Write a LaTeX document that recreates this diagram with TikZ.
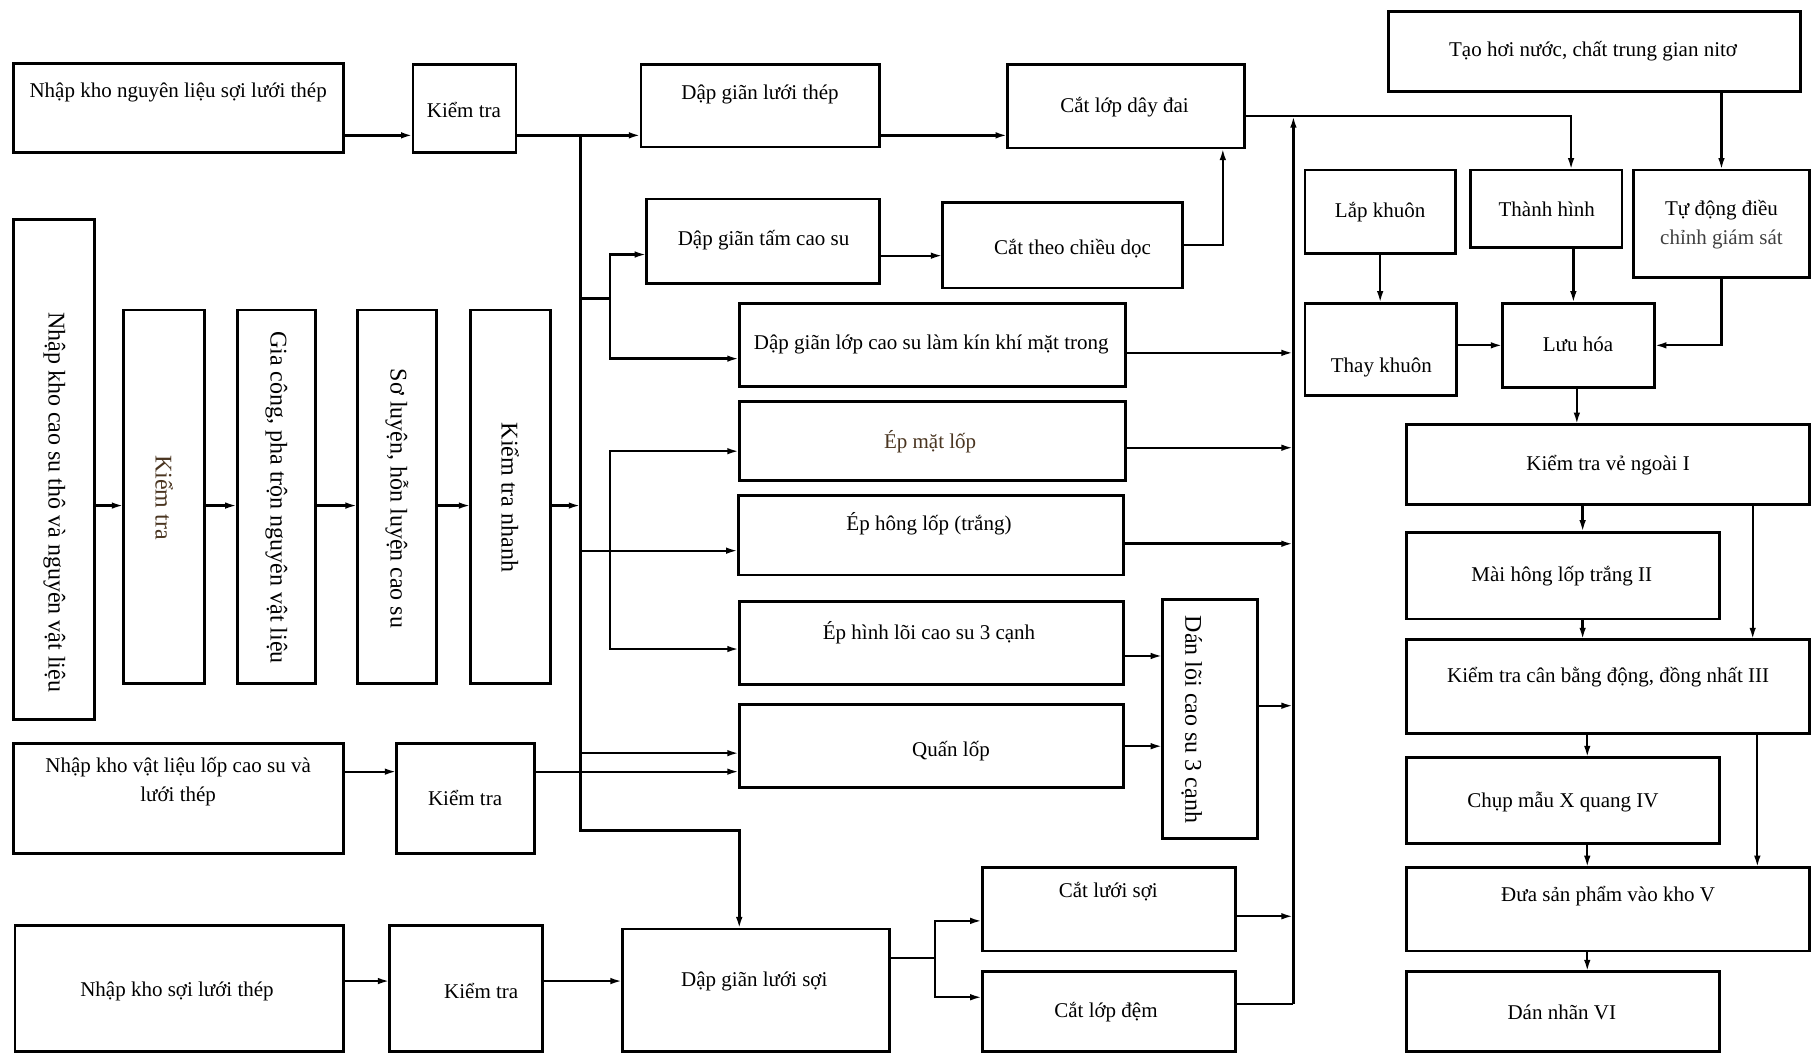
\documentclass[tikz,border=0pt]{standalone}
\usepackage{fontspec}
\setmainfont{Liberation Serif}
\usetikzlibrary{arrows.meta}
\definecolor{brn}{HTML}{4A3520}
\tikzset{
  box/.style={draw, rectangle, line width=2.8pt, inner sep=0pt, outer sep=0pt},
  txt/.style={inner sep=0pt, align=center, font=\fontsize{21}{29}\selectfont},
  vtxt/.style={inner sep=0pt, align=center, rotate=-90, font=\fontsize{24}{29}\selectfont},
  ln/.style={line width=2.3pt},
  arr/.style={line width=2.3pt, -{Latex[length=12pt,width=6.5pt]}},
  thk/.style={line width=3.3pt},
}
% box: name, x1, y1, x2, y2, text x, text y, text
\newcommand{\bx}[8]{%
  \node[box, minimum width={(#4-#2)*1.1569pt}, minimum height={(#5-#3)*1.1569pt}]
    (#1) at ({(#2+#4)/2},{(#3+#5)/2}) {};
  \node[txt] (#1-t) at (#6,#7) {#8};}
% same box with text running downwards
\newcommand{\vbx}[8]{%
  \node[box, minimum width={(#4-#2)*1.1569pt}, minimum height={(#5-#3)*1.1569pt}]
    (#1) at ({(#2+#4)/2},{(#3+#5)/2}) {};
  \node[vtxt] (#1-t) at (#6,#7) {#8};}
\begin{document}
\begin{tikzpicture}[x=1.1569pt,y=-1.1569pt]
\path[fill=white, use as bounding box] (0,0) rectangle (1568,912);

% --- top row: steel cord line
\bx{A}{12}{55}{297}{132}{154}{80}{Nhập kho nguyên liệu sợi lưới thép}
\bx{B}{357}{56}{446}{132}{401}{95}{Kiểm tra}
\bx{C}{554}{56}{760}{127}{657}{82}{Dập giãn lưới thép}
\bx{D}{871}{56}{1076}{128}{972}{93}{Cắt lớp dây đai}

% --- right column: forming, curing, inspection
\bx{E}{1200}{10}{1556}{79}{1377}{44}{Tạo hơi nước, chất trung gian nitơ}
\bx{LK}{1128}{147}{1258}{219}{1193}{183}{Lắp khuôn}
\bx{TH}{1271}{147}{1402}{214}{1337}{181}{Thành hình}
\bx{TD}{1412}{147}{1564}{240}{1488}{194}{Tự động điều\\{\color{black!75}chỉnh giám sát}}
\bx{TK}{1128}{262}{1259}{342}{1194}{318}{Thay khuôn}
\bx{LH}{1299}{262}{1430}{335}{1364}{298}{Lưu hóa}
\bx{K1}{1216}{367}{1564}{436}{1390}{402}{Kiểm tra vẻ ngoài I}
\bx{MH}{1216}{460}{1486}{535}{1350}{498}{Mài hông lốp trắng II}
\bx{K3}{1216}{553}{1564}{634}{1390}{585}{Kiểm tra cân bằng động, đồng nhất III}
\bx{CM}{1216}{655}{1486}{729}{1351}{693}{Chụp mẫu X quang IV}
\bx{DK}{1216}{750}{1564}{822}{1390}{775}{Đưa sản phẩm vào kho V}
\bx{DN}{1216}{840}{1486}{909}{1350}{875}{Dán nhãn VI}

% --- rubber preparation (vertical boxes)
\vbx{V1}{12}{190}{82}{622}{47}{434}{Nhập kho cao su thô và nguyên vật liệu}
\vbx{V2}{107}{268}{177}{591}{142}{430}{\color{brn}Kiểm tra}
\vbx{V3}{205}{268}{273}{591}{239}{430}{Gia công, pha trộn nguyên vật liệu}
\vbx{V4}{309}{268}{377}{591}{343}{431}{Sơ luyện, hỗn luyện cao su}
\vbx{V5}{407}{268}{476}{591}{441}{430}{Kiểm tra nhanh}

% --- middle column: component making
\bx{DGT}{559}{172}{760}{245}{660}{208}{Dập giãn tấm cao su}
\bx{CTD}{815}{175}{1022}{249}{927}{215}{Cắt theo chiều dọc}
\bx{DGL}{639}{262}{973}{334}{805}{298}{Dập giãn lớp cao su làm kín khí mặt trong}
\bx{EM}{639}{347}{973}{415}{804}{382}{\color{brn}Ép mặt lốp}
\bx{EH}{638}{428}{971}{497}{803}{453}{Ép hông lốp (trắng)}
\bx{EL}{639}{520}{971}{592}{803}{547}{Ép hình lõi cao su 3 cạnh}
\bx{QL}{639}{609}{971}{681}{822}{649}{Quấn lốp}
\vbx{DL3}{1005}{518}{1087}{725}{1030}{622}{Dán lõi cao su 3 cạnh}

% --- lower rows
\bx{N3}{12}{643}{297}{738}{154}{676}{Nhập kho vật liệu lốp cao su và\\lưới thép}
\bx{KT3}{343}{643}{462}{738}{402}{690}{Kiểm tra}
\bx{N4}{13}{800}{297}{909}{153}{857}{Nhập kho sợi lưới thép}
\bx{KT4}{337}{800}{469}{909}{416}{857}{Kiểm tra}
\bx{DLS}{538}{803}{769}{909}{652}{848}{Dập giãn lưới sợi}
\bx{CLS}{849}{750}{1068}{822}{958}{771}{Cắt lưới sợi}
\bx{CLD}{849}{840}{1068}{909}{956}{875}{Cắt lớp đệm}

% --- routing points
\coordinate (rowA) at (0,117);
\coordinate (bT) at (502,117);
\coordinate (bB) at (502,718);
\coordinate (bK) at (639,718);
\coordinate (rowV) at (502,437);
\coordinate (j1) at (502,258);
\coordinate (s1) at (527,258);
\coordinate (s1a) at (527,220);
\coordinate (s1b) at (527,310);
\coordinate (j2) at (502,476);
\coordinate (s2) at (527,476);
\coordinate (s2a) at (527,390);
\coordinate (s2b) at (527,561);
\coordinate (j3) at (502,651);
\coordinate (q) at (0,667);
\coordinate (rowB) at (0,848);
\coordinate (f0) at (808,828);
\coordinate (f1) at (808,796);
\coordinate (f2) at (808,862);
\coordinate (cT) at (1118,100);
\coordinate (cB) at (1118,868);
\coordinate (c1) at (1118,305);
\coordinate (c2) at (1118,387);
\coordinate (c3) at (1118,470);
\coordinate (c4) at (1118,610);
\coordinate (c5) at (1118,792);
\coordinate (d1) at (1005,567);
\coordinate (d2) at (1005,645);
\coordinate (u1) at (1057,212);
\coordinate (u2) at (0,221);
\coordinate (t1) at (1358,100);
\coordinate (t2) at (1360,0);
\coordinate (x1) at (1363,0);
\coordinate (x2) at (1368,0);
\coordinate (x3) at (1515,0);
\coordinate (x4) at (1372,0);
\coordinate (x5) at (1519,0);

% --- top row flow
\draw[arr,thk] (A.east |- rowA) -- (B.west |- rowA);
\draw[arr,thk] (B.east |- rowA) -- (C.west |- rowA);
\draw[arr,thk] (C.east |- rowA) -- (D.west |- rowA);

% --- main distribution bus
\draw[arr,line width=2.7pt] (bT) -- (bB) -- (bK) -- (bK |- DLS.north);
\draw[arr] (V1.east |- rowV) -- (V2.west |- rowV);
\draw[arr] (V2.east |- rowV) -- (V3.west |- rowV);
\draw[arr] (V3.east |- rowV) -- (V4.west |- rowV);
\draw[arr] (V4.east |- rowV) -- (V5.west |- rowV);
\draw[arr] (V5.east |- rowV) -- (rowV);

\draw[ln] (j1) -- (s1);
\draw[arr] (s1) -- (s1a) -- (DGT.west |- s1a);
\draw[arr] (s1) -- (s1b) -- (DGL.west |- s1b);
\draw[arr] (j2) -- (EH.west |- j2);
\draw[arr] (s2) -- (s2a) -- (EM.west |- s2a);
\draw[arr] (s2) -- (s2b) -- (EL.west |- s2b);
\draw[arr] (j3) -- (QL.west |- j3);
\draw[arr] (N3.east |- q) -- (KT3.west |- q);
\draw[arr] (KT3.east |- q) -- (QL.west |- q);

% --- bottom row flow
\draw[arr] (N4.east |- rowB) -- (KT4.west |- rowB);
\draw[arr] (KT4.east |- rowB) -- (DLS.west |- rowB);
\draw[ln] (DLS.east |- f0) -- (f0);
\draw[arr] (f0) -- (f1) -- (CLS.west |- f1);
\draw[arr] (f0) -- (f2) -- (CLD.west |- f2);

% --- component collector
\draw[ln] (CLD.east |- cB) -- (cB);
\draw[arr] (cB) -- (cT);
\draw[arr] (DGL.east |- c1) -- (c1);
\draw[arr] (EM.east |- c2) -- (c2);
\draw[arr,thk] (EH.east |- c3) -- (c3);
\draw[arr] (DL3.east |- c4) -- (c4);
\draw[arr] (CLS.east |- c5) -- (c5);
\draw[arr] (EL.east |- d1) -- (DL3.west |- d1);
\draw[arr] (QL.east |- d2) -- (DL3.west |- d2);
\draw[arr] (DGT.east |- u2) -- (CTD.west |- u2);
\draw[arr] (CTD.east |- u1) -- (u1) -- (u1 |- D.south);
\draw[arr] (D.east |- cT) -- (t1) -- (t1 |- TH.north);

% --- curing and final checks
\draw[arr] (E.south -| TD.north) -- (TD.north);
\draw[arr] (LK.south) -- (LK.south |- TK.north);
\draw[arr] (TH.south -| t2) -- (LH.north -| t2);
\draw[arr] (TK.east |- LH.west) -- (LH.west);
\draw[arr] (TD.south) |- (LH.east);
\draw[arr] (LH.south -| x1) -- (K1.north -| x1);
\draw[arr] (K1.south -| x2) -- (MH.north -| x2);
\draw[arr] (K1.south -| x3) -- (K3.north -| x3);
\draw[arr] (MH.south -| x2) -- (K3.north -| x2);
\draw[arr] (K3.south -| x4) -- (CM.north -| x4);
\draw[arr] (K3.south -| x5) -- (DK.north -| x5);
\draw[arr] (CM.south -| x4) -- (DK.north -| x4);
\draw[arr] (DK.south -| x4) -- (DN.north -| x4);
\end{tikzpicture}
\end{document}
